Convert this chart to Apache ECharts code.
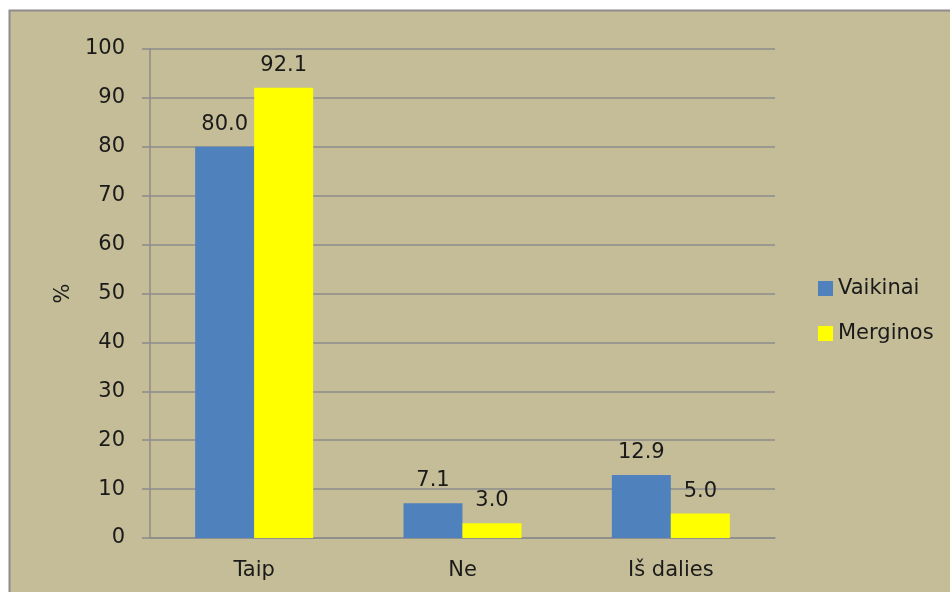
<!DOCTYPE html>
<html>
<head>
<meta charset="utf-8">
<script src="https://cdn.jsdelivr.net/npm/echarts@6/dist/echarts.min.js"></script>
<style>
  html, body { margin: 0; padding: 0; background: #ffffff; }
  #chart { width: 950px; height: 592px; }
</style>
</head>
<body>
<div id="chart"></div>
<script>
// Survey answers by group (percent)
const categories = ['Taip', 'Ne', 'Iš dalies'];
const vaikinai = [80.0, 7.1, 12.9];
const merginos = [92.1, 3.0, 5.0];
const seriesNames = ['Vaikinai', 'Merginos'];

const FONT = '"DejaVu Sans", sans-serif';
const TEXT = '#1a1a1a';
const SIZE = 21;

const chart = echarts.init(document.getElementById('chart'), null, { renderer: 'canvas' });

const valueLabel = {
  show: true,
  position: 'top',
  distance: 12,
  color: TEXT,
  fontFamily: FONT,
  fontSize: SIZE,
  formatter: p => p.value.toFixed(1)
};

chart.setOption({
  backgroundColor: '#ffffff',
  animation: false,
  graphic: [{
    type: 'rect',
    z: -10,
    shape: { x: 9.5, y: 10.5, width: 960, height: 600 },
    style: { fill: '#c4bd97', stroke: '#8c8c8c', lineWidth: 2 }
  }],
  grid: { left: 150, right: 175, top: 49, bottom: 54 },
  legend: {
    orient: 'vertical',
    left: 813,
    top: 273,
    itemWidth: 15,
    itemHeight: 15,
    itemGap: 24,
    textStyle: { color: TEXT, fontFamily: FONT, fontSize: SIZE },
    icon: 'rect',
    data: seriesNames
  },
  xAxis: {
    type: 'category',
    data: categories,
    axisLine: { show: true, lineStyle: { color: '#8c8c8c', width: 1.5 } },
    axisTick: { show: false },
    axisLabel: { color: TEXT, fontFamily: FONT, fontSize: SIZE, margin: 22 }
  },
  yAxis: {
    type: 'value',
    min: 0,
    max: 100,
    interval: 10,
    name: '%',
    nameLocation: 'middle',
    nameGap: 76,
    nameRotate: 90,
    nameTextStyle: { color: TEXT, fontFamily: FONT, fontSize: SIZE },
    axisLine: { show: true, lineStyle: { color: '#8c8c8c', width: 1.5 } },
    axisTick: { show: true, inside: false, length: 8, lineStyle: { color: '#8c8c8c', width: 1.5 } },
    axisLabel: { color: TEXT, fontFamily: FONT, fontSize: SIZE, margin: 25 },
    splitLine: { show: true, lineStyle: { color: '#8c8c8c', width: 1.5 } }
  },
  series: [
    {
      name: seriesNames[0],
      type: 'bar',
      data: vaikinai,
      barWidth: 59,
      barGap: '0%',
      itemStyle: { color: '#4f81bd' },
      label: valueLabel
    },
    {
      name: seriesNames[1],
      type: 'bar',
      data: merginos,
      barWidth: 59,
      barGap: '0%',
      itemStyle: { color: '#ffff00' },
      label: valueLabel
    }
  ]
});
</script>
</body>
</html>
